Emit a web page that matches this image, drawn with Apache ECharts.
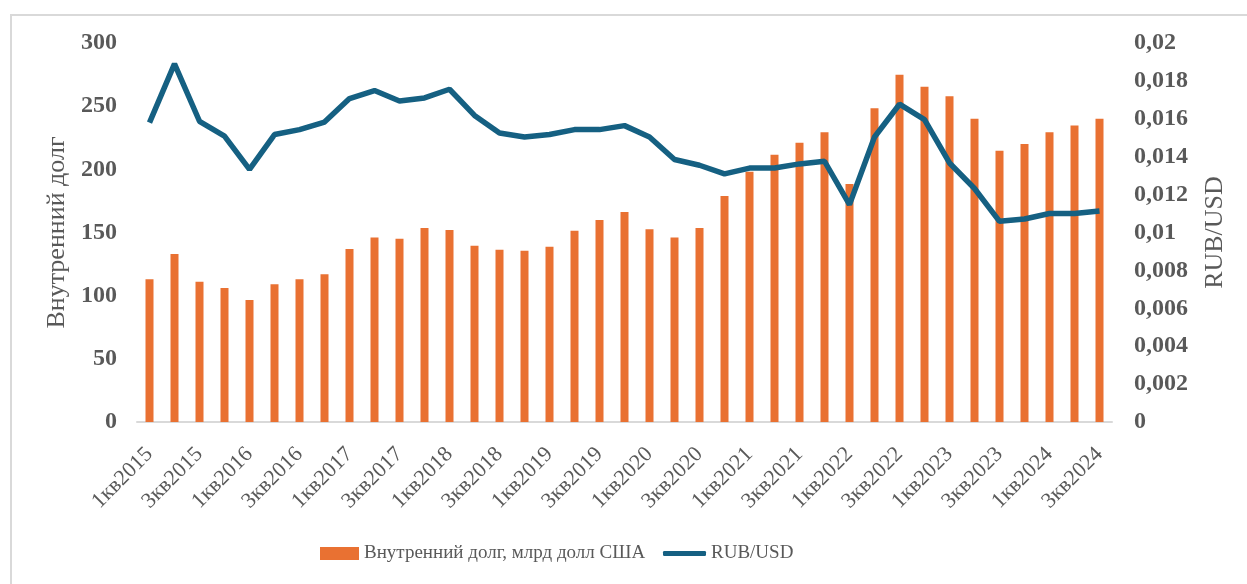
<!DOCTYPE html>
<html>
<head>
<meta charset="utf-8">
<script src="https://cdn.jsdelivr.net/npm/echarts@6/dist/echarts.min.js"></script>
<style>
  html, body { margin: 0; padding: 0; background: #fff; overflow: hidden; }
  #frame { position: absolute; left: 10px; top: 14px; width: 1260px; height: 600px; border: 2px solid #d9d9d9; box-sizing: border-box; }
  #chart { position: absolute; left: 0; top: 0; width: 1247px; height: 584px; }
</style>
</head>
<body>
<div id="frame"></div>
<div id="chart"></div>
<script>
// quarters 1кв2015 .. 3кв2024
const quarters = []
for (let y = 2015; y <= 2024; y++) {
  for (let q = 1; q <= 4; q++) {
    if (y === 2024 && q === 4) break
    quarters.push(q + 'кв' + y)
  }
}

// Внутренний долг, млрд долл США
const debt = [
  113, 133, 111, 106, 96.5, 109, 113, 117, 137, 146,
  145, 153.5, 152, 139.5, 136.4, 135.6, 138.8, 151.4, 159.8, 166.2,
  152.5, 146, 153.5, 178.8, 198, 211.5, 221, 229.4, 188.3, 248.4,
  274.8, 265.3, 257.9, 240, 214.7, 220, 229.4, 234.6, 240
]

// RUB/USD
const rate = [
  0.0158, 0.0189, 0.01587, 0.01509, 0.01333, 0.01517, 0.01543, 0.01583, 0.01707, 0.01749,
  0.01694, 0.0171, 0.01756, 0.01618, 0.01525, 0.01504, 0.01517, 0.01543, 0.01543, 0.01564,
  0.01504, 0.01385, 0.01355, 0.01309, 0.0134, 0.0134, 0.01362, 0.01376, 0.01147, 0.01504,
  0.01677, 0.01596, 0.01367, 0.01232, 0.01059, 0.01071, 0.011, 0.011, 0.01113
]

const FONT = '"Liberation Serif", "Times New Roman", serif'
const GREY = '#595959'
const ORANGE = '#E97132'
const BLUE = '#156082'

const chart = echarts.init(document.getElementById('chart'), null, { renderer: 'canvas' })

chart.setOption({
  animation: false,
  textStyle: { fontFamily: FONT },
  grid: { left: 137, right: 135, top: 43, bottom: 162 },
  legend: [
    {
      left: 320, top: 544,
      itemWidth: 39, itemHeight: 13, padding: 0,
      textStyle: { fontFamily: FONT, fontSize: 19, color: GREY },
      data: [{ name: 'Внутренний долг, млрд долл США', icon: 'rect' }]
    },
    {
      left: 663, top: 544,
      itemWidth: 43, itemHeight: 5, padding: 0,
      textStyle: { fontFamily: FONT, fontSize: 19, color: GREY },
      data: [{ name: 'RUB/USD', icon: 'roundRect' }]
    }
  ],
  xAxis: {
    type: 'category',
    data: quarters,
    axisLine: { lineStyle: { color: '#d9d9d9', width: 2 } },
    axisTick: { show: false },
    axisLabel: {
      interval: 1, rotate: 45, margin: 29,
      fontFamily: FONT, fontSize: 22, color: GREY
    }
  },
  yAxis: [
    {
      type: 'value', min: 0, max: 300, interval: 50,
      name: 'Внутренний долг', nameLocation: 'middle', nameGap: 67,
      nameTextStyle: { fontFamily: FONT, fontSize: 26, color: GREY },
      axisLine: { show: false }, axisTick: { show: false }, splitLine: { show: false },
      axisLabel: { margin: 20, fontFamily: FONT, fontSize: 24, fontWeight: 'bold', color: GREY }
    },
    {
      type: 'value', min: 0, max: 0.02, interval: 0.002,
      name: 'RUB/USD', nameLocation: 'middle', nameGap: 90,
      nameTextStyle: { fontFamily: FONT, fontSize: 26, color: GREY },
      axisLine: { show: false }, axisTick: { show: false }, splitLine: { show: false },
      axisLabel: {
        margin: 22, fontFamily: FONT, fontSize: 24, fontWeight: 'bold', color: GREY,
        formatter: v => v === 0 ? '0' : String(+v.toFixed(3)).replace('.', ',')
      }
    }
  ],
  series: [
    {
      name: 'Внутренний долг, млрд долл США',
      type: 'bar',
      data: debt,
      barWidth: 8,
      itemStyle: { color: ORANGE }
    },
    {
      name: 'RUB/USD',
      type: 'line',
      yAxisIndex: 1,
      data: rate,
      symbol: 'none',
      lineStyle: { color: BLUE, width: 5.5 },
      itemStyle: { color: BLUE }
    }
  ]
})
</script>
</body>
</html>
